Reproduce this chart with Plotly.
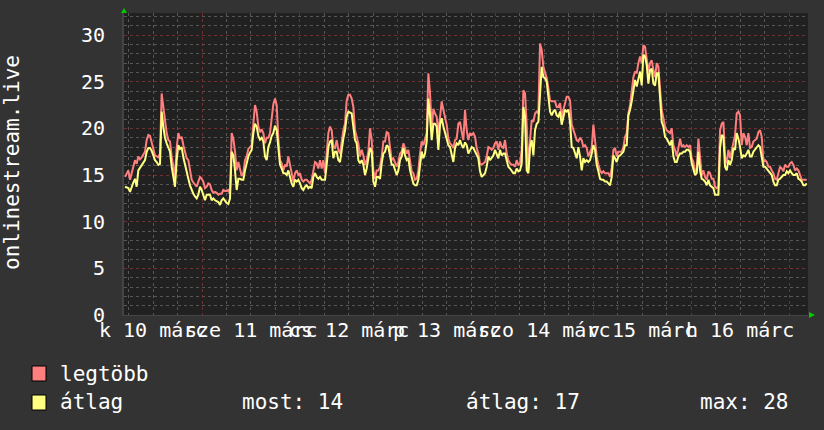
import pandas as pd
import plotly.graph_objects as go

# ---- data ----
series_start = "2020-03-10 05:06:40"
sample_step = "1472s"
view_start = "2020-03-10 04:52:00"
view_end = "2020-03-17 04:39:30"

max_vals = [
    # 10 march
    14.8, 15.2, 15.5, 14.5, 15.4, 15.9, 16.6, 16.2, 17.0, 16.7, 16.9, 17.2, 17.5, 18.75, 19.3, 19.2,
    18.6, 17.8, 17.1, 17.0, 16.9, 17.3, 23.75, 22.3, 20.5, 19.5, 18.75, 18.6, 17.0, 15.7, 14.8, 17.9,
    19.5, 18.9, 19.1, 18.2, 17.3, 16.8, 16.6, 15.5, 14.5, 14.2, 13.9, 13.75, 14.3, 14.8, 14.6, 14.3,
    13.6, 13.75, 14.1, 14.0, 13.4, 13.1, 13.2, 13.1, 12.9, 13.0, 13.0, 13.4, 13.3, 13.3, 13.4, 13.0,
    19.5, 18.9,
    # window 2
    17.5, 15.5, 16.4, 15.5, 14.9, 15.2, 16.6, 17.0, 17.8, 18.0, 18.2, 20.5, 22.5, 21.8, 20.2, 19.6,
    19.9, 19.5, 18.4, 19.0, 19.0, 19.5, 21.5, 22.6, 23.2, 22.5, 18.9, 16.6, 16.25, 15.5, 16.1, 15.9,
    17.0, 16.1, 14.8, 14.3, 15.2, 15.5, 15.0, 15.2, 14.5, 14.3, 14.5, 14.5, 14.3, 14.1, 14.5, 15.4,
    16.4, 16.25, 15.7, 16.6, 15.7, 16.6, 15.2, 17.3, 19.5, 20.2, 19.8, 18.0, 17.9, 18.75, 17.7, 17.3,
    18.9, 19.8, 20.5, 23.0, 23.6,
    # window 3
    23.6, 23.2, 22.3, 19.8, 19.1, 18.4, 17.0, 17.7, 17.1, 16.1, 16.6, 17.5, 20.0, 18.75, 15.5, 14.6,
    15.5, 15.5, 15.9, 17.0, 18.6, 18.6, 19.6, 19.5, 18.0, 16.6, 16.8, 16.25, 15.9, 16.4, 17.3, 17.5,
    18.4, 17.9, 17.3, 17.7, 16.4, 15.4, 15.2, 14.5, 14.6, 15.5, 17.3, 18.6, 18.2, 18.75, 19.5, 25.9,
    23.75, 20.0, 22.1, 21.6, 21.25, 19.5, 21.25, 22.9, 22.0, 21.1, 20.4, 18.9, 18.4, 18.2, 17.9, 18.75,
    18.9, 20.5, 20.7, 19.6, 18.75,
    # window 4
    22.0, 19.8, 18.75, 19.5, 19.3, 19.5, 19.1, 17.9, 17.3, 16.25, 16.1, 16.25, 16.4, 17.0, 18.0, 17.9,
    17.7, 17.9, 18.4, 18.6, 17.7, 18.6, 18.0, 17.9, 18.75, 17.3, 16.6, 16.25, 16.1, 16.1, 15.9, 16.6,
    16.1, 16.25, 17.7, 24.1, 23.75, 20.4, 15.5, 18.75, 20.9, 20.7, 21.6, 21.8, 21.6, 29.1, 28.4, 26.6,
    25.9, 25.4, 24.3, 23.0, 22.9, 22.9, 22.9, 22.3, 22.3, 22.7, 21.1, 22.0, 22.9, 23.4, 23.4, 23.0,
    20.4, 19.8, 19.1, 18.75, 18.6,
    # window 5
    19.0, 18.75, 18.0, 18.2, 17.9, 17.0, 17.5, 17.9, 20.4, 18.4, 17.0, 16.1, 15.5, 15.2, 15.4, 15.2,
    15.2, 15.2, 14.8, 15.7, 17.7, 17.9, 17.0, 17.5, 17.5, 17.5, 18.0, 19.1, 19.5, 21.6, 22.5, 24.1,
    25.5, 26.1, 25.9, 27.0, 27.7, 27.0, 28.9, 28.75, 27.3, 26.1, 27.0, 27.3, 26.25, 25.5, 27.0, 26.6,
    24.3, 22.0, 21.1, 20.2, 19.8, 19.6, 19.5, 20.0, 18.2, 17.7, 17.0, 17.9, 18.9, 18.0, 18.2, 18.0,
    18.2, 18.0, 18.2, 16.8, 16.4,
    # window 6
    15.4, 15.5, 18.9, 17.0, 15.0, 15.5, 14.8, 14.5, 15.4, 15.2, 14.6, 14.6, 13.75, 13.6, 13.75, 19.8,
    20.5, 20.7, 17.0, 16.25, 17.7, 16.8, 17.7, 18.6, 19.3, 21.6, 21.8, 21.4, 18.2, 19.5, 19.1, 18.2,
    19.5, 17.9, 18.0, 18.6, 18.75, 18.9, 19.6, 19.8, 19.1, 16.4, 16.6, 16.4, 15.9, 15.9, 15.5, 15.2,
    14.6, 14.5, 15.2, 15.9, 15.7, 15.4, 16.1, 15.9, 15.9, 16.25, 16.4, 16.1, 15.5, 15.7, 15.5, 15.0,
    14.5, 14.5, 14.5, 14.5,
]

avg_vals = [
    # 10 march
    13.75, 13.7, 13.6, 13.2, 13.8, 14.2, 14.6, 13.75, 15.5, 15.8, 16.0, 16.3, 16.6, 17.5, 17.9, 17.9,
    17.6, 17.1, 16.6, 16.4, 16.1, 16.2, 21.8, 20.2, 19.0, 18.4, 17.9, 17.5, 15.9, 14.6, 13.75, 16.6,
    18.2, 17.8, 18.0, 16.9, 16.0, 15.3, 14.6, 13.9, 13.4, 13.0, 12.7, 12.5, 12.9, 13.75, 13.4, 12.9,
    12.3, 12.9, 12.9, 12.9, 12.3, 12.5, 12.3, 12.2, 12.1, 11.8, 12.3, 12.5, 12.2, 12.0, 11.9, 12.5,
    17.5, 17.1,
    # window 2
    15.5, 13.4, 14.6, 14.6, 14.5, 14.5, 15.5, 16.25, 17.0, 17.4, 17.7, 19.5, 20.5, 20.2, 19.2, 18.8,
    19.0, 18.6, 17.0, 16.6, 18.0, 18.5, 19.2, 19.5, 20.3, 19.8, 17.7, 16.1, 15.7, 15.2, 15.2, 15.0,
    15.5, 14.8, 14.1, 13.75, 14.5, 14.3, 14.5, 14.1, 13.6, 13.4, 13.75, 13.9, 13.6, 13.75, 13.6, 14.8,
    15.2, 14.8, 14.6, 14.8, 14.5, 14.5, 14.5, 16.1, 18.0, 18.6, 18.75, 16.8, 17.5, 17.5, 16.6, 16.4,
    17.9, 18.9, 19.8, 21.25, 21.8,
    # window 3
    21.7, 21.6, 20.2, 18.75, 18.4, 16.6, 16.25, 16.6, 16.1, 15.0, 15.7, 16.6, 17.9, 17.5, 14.3, 13.75,
    14.8, 14.8, 14.6, 16.25, 17.3, 17.5, 18.2, 18.0, 17.1, 16.1, 16.1, 15.5, 15.0, 15.5, 16.6, 17.0,
    17.9, 17.1, 16.6, 16.8, 15.5, 14.8, 14.1, 13.9, 13.9, 14.5, 16.4, 17.5, 16.8, 17.3, 18.6, 23.2,
    21.4, 18.75, 20.5, 20.5, 20.2, 17.7, 20.4, 21.1, 20.2, 19.5, 19.1, 18.2, 18.0, 17.0, 16.4, 17.9,
    18.4, 18.2, 18.75, 18.2, 17.9,
    # window 4
    18.5, 18.2, 17.3, 17.7, 18.0, 17.9, 17.5, 17.1, 16.8, 15.4, 14.8, 15.0, 15.2, 15.9, 17.0, 16.6,
    16.8, 17.1, 17.7, 17.3, 16.8, 17.7, 17.1, 17.3, 17.3, 16.6, 15.9, 15.7, 15.4, 15.2, 15.2, 15.7,
    15.4, 15.5, 16.25, 22.3, 21.25, 15.5, 15.2, 18.0, 18.75, 17.1, 19.8, 20.5, 20.7, 23.9, 26.6, 25.5,
    25.4, 25.0, 23.4, 21.8, 21.4, 21.8, 22.0, 21.4, 21.25, 21.8, 20.4, 21.1, 22.0, 21.8, 22.0, 20.7,
    18.0, 17.9, 17.3, 16.8, 18.0,
    # window 5
    17.0, 15.5, 16.8, 16.4, 16.6, 16.4, 16.6, 17.3, 18.2, 17.7, 16.1, 15.4, 14.6, 14.5, 14.5, 14.3,
    14.3, 14.1, 13.9, 14.8, 17.1, 16.8, 16.4, 17.0, 17.1, 17.3, 17.5, 18.2, 18.2, 21.4, 22.0, 22.9,
    23.9, 25.2, 24.5, 25.4, 26.1, 24.6, 27.9, 27.7, 26.8, 24.8, 26.25, 26.4, 24.8, 24.6, 25.9, 25.9,
    23.4, 20.7, 20.2, 19.1, 18.9, 18.6, 18.2, 18.75, 17.0, 16.4, 16.4, 17.0, 17.3, 17.3, 17.5, 17.5,
    17.7, 17.7, 17.5, 16.25, 15.5,
    # window 6
    15.0, 15.2, 17.5, 15.5, 14.6, 14.5, 14.3, 13.9, 14.5, 13.9, 13.75, 13.6, 12.9, 12.9, 12.9, 17.9,
    19.3, 19.1, 15.9, 15.5, 16.6, 16.1, 16.6, 17.9, 17.7, 19.5, 18.9, 18.0, 16.8, 17.1, 17.0, 17.3,
    17.7, 17.0, 17.0, 17.5, 17.7, 17.9, 18.2, 18.0, 17.1, 15.9, 15.9, 15.7, 15.5, 15.2, 15.0, 14.3,
    13.9, 13.9, 14.5, 14.6, 14.8, 15.0, 15.0, 15.4, 15.2, 15.5, 15.2, 15.0, 15.0, 15.2, 14.6, 14.5,
    14.3, 13.9, 13.9, 14.1,
]

day_label_times = ["2020-03-10 12:00", "2020-03-11 12:00", "2020-03-12 12:00", "2020-03-13 12:00",
                   "2020-03-14 12:00", "2020-03-15 12:00", "2020-03-16 12:00"]
day_labels = ["k 10 márc", "sze 11 márc", "cs 12 márc", "p 13 márc",
              "szo 14 márc", "v 15 márc", "h 16 márc"]
y_ticks = [0, 5, 10, 15, 20, 25, 30]
y_title = "onlinestream.live"
series_names = ["legtöbb", "átlag"]
stat_texts = ["most: 14", "átlag: 17", "max: 28"]

n = min(len(max_vals), len(avg_vals))
times = pd.date_range(start=series_start, periods=n, freq=sample_step)

# ---- layout constants ----
W, H = 824, 430
L, R, T, B = 124, 16, 13, 115
PW, PH = W - L - R, H - T - B
FONT = "DejaVu Sans Mono"
RED = "#ff7f7f"
YEL = "#ffff80"
MAJOR_GRID = "#703030"
MINOR_GRID = "#575757"


def px(xp):
    return (xp - L) / PW


def py(yp):
    return (H - B - yp) / PH


fig = go.Figure()
fig.add_trace(go.Scatter(x=times, y=max_vals[:n], mode="lines", name=series_names[0],
                         line=dict(color=RED, width=2), showlegend=False))
fig.add_trace(go.Scatter(x=times, y=avg_vals[:n], mode="lines", name=series_names[1],
                         line=dict(color=YEL, width=2), showlegend=False))

fig.update_layout(
    width=W, height=H,
    margin=dict(l=L, r=R, t=T, b=B, pad=0),
    paper_bgcolor="#333333",
    plot_bgcolor="#212121",
    font=dict(family=FONT, size=20, color="#ffffff"),
    showlegend=False,
)

fig.update_xaxes(
    type="date", range=[view_start, view_end],
    showticklabels=False, ticks="",
    tick0="2020-03-10", dtick=86400000,
    showgrid=True, gridcolor=MAJOR_GRID, griddash="dot", gridwidth=1,
    minor=dict(dtick=21600000, showgrid=True, gridcolor=MINOR_GRID, griddash="dot", gridwidth=1),
    showline=True, linecolor="#444444", linewidth=1,
    zeroline=False,
)

fig.update_yaxes(
    range=[0, 32.37],
    tickvals=y_ticks, ticktext=[str(v) for v in y_ticks],
    ticks="", ticklabelstandoff=13,
    tickfont=dict(family=FONT, size=20, color="#ffffff"),
    showgrid=True, gridcolor=MAJOR_GRID, griddash="dot", gridwidth=1,
    minor=dict(dtick=1, showgrid=True, gridcolor=MINOR_GRID, griddash="dot", gridwidth=1),
    showline=True, linecolor="#444444", linewidth=2,
    zeroline=False,
)

ann = []
for t, lab in zip(day_label_times, day_labels):
    ann.append(dict(x=t, xref="x", y=0, yref="paper", text=lab, showarrow=False,
                    xanchor="center", yanchor="middle", yshift=-15,
                    font=dict(family=FONT, size=20, color="#ffffff")))

ann.append(dict(x=px(12), xref="paper", y=py(163), yref="paper", text=y_title, textangle=-90,
                showarrow=False, xanchor="center", yanchor="middle",
                font=dict(family=FONT, size=21, color="#ffffff")))

LEG_FONT = dict(family=FONT, size=21, color="#ffffff")
ann.append(dict(x=px(58), xref="paper", y=py(374), yref="paper", text=series_names[0],
                showarrow=False, xanchor="left", yanchor="middle", font=LEG_FONT))
ann.append(dict(x=px(58), xref="paper", y=py(402), yref="paper", text=series_names[1],
                showarrow=False, xanchor="left", yanchor="middle", font=LEG_FONT))
for xp, txt in zip([240, 464, 698], stat_texts):
    ann.append(dict(x=px(xp), xref="paper", y=py(402), yref="paper", text=txt,
                    showarrow=False, xanchor="left", yanchor="middle", font=LEG_FONT))

fig.update_layout(annotations=ann)

shapes = [
    dict(type="rect", xref="paper", yref="paper", x0=px(32), x1=px(46), y0=py(381), y1=py(366),
         fillcolor=RED, line=dict(color="#000000", width=1)),
    dict(type="rect", xref="paper", yref="paper", x0=px(32), x1=px(46), y0=py(410), y1=py(395),
         fillcolor=YEL, line=dict(color="#000000", width=1)),
    # green arrow heads at the axis ends
    dict(type="path", xref="paper", yref="paper", xsizemode="pixel", ysizemode="pixel",
         xanchor=0, yanchor=1, path="M -3,0 L 3,0 L 0,5 Z",
         fillcolor="#00cc00", line=dict(color="#00cc00", width=0)),
    dict(type="path", xref="paper", yref="paper", xsizemode="pixel", ysizemode="pixel",
         xanchor=1, yanchor=0, path="M 1,3 L 1,-3 L 7,0 Z",
         fillcolor="#00cc00", line=dict(color="#00cc00", width=0)),
]
fig.update_layout(shapes=shapes)

fig.write_html("out.html", config={"displayModeBar": False},
               post_script="document.body.style.margin='0';")
